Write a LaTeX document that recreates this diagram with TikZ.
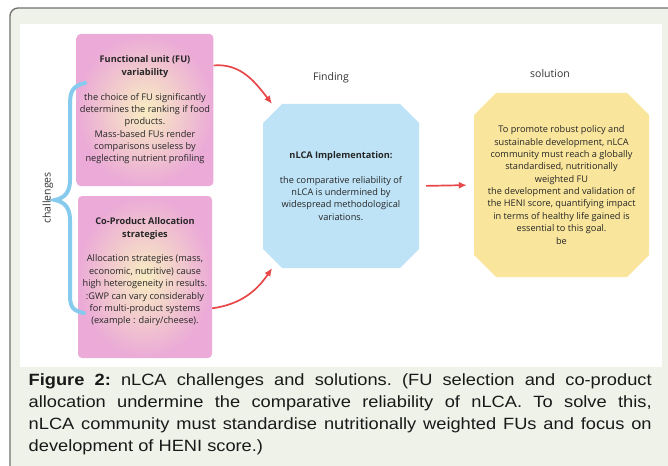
\documentclass[tikz,border=0pt]{standalone}
\usepackage{fontspec}
\setmainfont{Open Sans}
\newfontfamily\capfont[FakeStretch=1.12]{Liberation Sans}
\usepackage{xcolor}
\usetikzlibrary{arrows.meta, positioning}

\definecolor{pinkbox}{HTML}{EBAAD7}
\definecolor{pinkglow}{HTML}{F8EDC2}
\definecolor{skybox}{HTML}{BEE3F6}
\definecolor{sunbox}{HTML}{F9E69C}
\definecolor{arrowred}{HTML}{E8474A}
\definecolor{bracecol}{HTML}{86CBEE}
\definecolor{framebg}{HTML}{EEF2E8}
\definecolor{framegray}{HTML}{707070}

\tikzset{
    boxtext/.style={align=center, font=\fontsize{9.2}{12.35}\selectfont, text=black!85},
    challengebox/.style={boxtext, rectangle, rounded corners=4pt,
        minimum width=134pt, minimum height=152pt,
        inner color=pinkglow, outer color=pinkbox},
    % rectangle node filled as an octagon (#1 colour, #2 corner cut)
    octbox/.style 2 args={boxtext, rectangle, inner sep=0pt,
        path picture={
            \fill[#1] ([xshift=#2]path picture bounding box.north west)
                -- ([xshift=-#2]path picture bounding box.north east)
                -- ([yshift=-#2]path picture bounding box.north east)
                -- ([yshift=#2]path picture bounding box.south east)
                -- ([xshift=-#2]path picture bounding box.south east)
                -- ([xshift=#2]path picture bounding box.south west)
                -- ([yshift=#2]path picture bounding box.south west)
                -- ([yshift=-#2]path picture bounding box.north west) -- cycle;
        }},
    redarrow/.style={->, draw=arrowred, line width=1.7pt},
    header/.style={font=\fontsize{10.5}{12}\selectfont, text=black!80}
}

\begin{document}
\begin{tikzpicture}[
    x=1pt, y=-1pt,
    >={Latex[length=8pt,width=7pt]}
]

\useasboundingbox (0,0) rectangle (668,465);

% =========================================================
% FRAME AND PANEL
% =========================================================
\begin{scope}
\clip (0,0) rectangle (668,465);
\filldraw[fill=framebg, draw=framegray, line width=1.3pt, rounded corners=8pt]
    (10,8) rectangle (690,490);
\fill[white] (20,24) rectangle (662,367);
\end{scope}

% =========================================================
% LEFT: challenges
% =========================================================
\node[challengebox] (fu) at (145,110) {%
    \textbf{Functional unit (FU)}\\\textbf{variability}\\[12.35pt]
    the choice of FU significantly\\determines the ranking if food\\products.\\
    Mass-based FUs render\\comparisons useless by\\neglecting nutrient profiling};

\node[challengebox, minimum height=162pt] (alloc) at (145,277) {%
    \textbf{Co-Product Allocation}\\\textbf{strategies}\\[12.35pt]
    Allocation strategies (mass,\\economic, nutritive) cause\\high heterogeneity in results.\\
    :GWP can vary considerably\\for multi-product systems\\(example : dairy/cheese).\\ \mbox{}};

% brace grouping the two challenges
\draw[bracecol, line width=4pt, line cap=round]
    (85,83) .. controls (72,86) and (70,92) .. (70,105)
    -- (70,180)
    .. controls (70,193) and (64,198) .. (55,200)
    .. controls (64,202) and (70,207) .. (70,220)
    -- (70,296)
    .. controls (70,308) and (74,311) .. (84,313);
\node[header, rotate=90] (chal) at (48,198) {challenges};

% =========================================================
% MIDDLE: finding
% =========================================================
\node[octbox={skybox}{19pt}, minimum width=156pt, minimum height=164pt]
    (find) at (341,186) {%
    \textbf{nLCA Implementation:}\\[12.35pt]
    the comparative reliability of\\nLCA is undermined by\\widespread methodological\\variations.};
\node[header] (findlbl) at (331,77.5) {Finding};

% =========================================================
% RIGHT: solution
% =========================================================
\node[octbox={sunbox}{22pt}, minimum width=175pt, minimum height=184pt]
    (sol) at (561.5,185) {%
    To promote robust policy and\\sustainable development, nLCA\\community must reach a globally\\
    standardised, nutritionally\\weighted FU\\the development and validation of\\
    the HENI score, quantifying impact\\in terms of healthy life gained is\\
    essential to this goal.\\be};
\node[header] (sollbl) at (550,73.5) {solution};

% arrows
\draw[redarrow] (fu.33) to[out=5, in=128] (find.130);
\draw[redarrow] (alloc.-25) to[out=8, in=236] (find.230);
\draw[redarrow, shorten <=7pt, shorten >=7pt] (find.east) -- (sol.west);

% =========================================================
% CAPTION
% =========================================================
\node[anchor=north west, inner sep=0pt, text width=623pt, align=justify,
      font=\capfont\fontsize{16.3}{22}\selectfont\frenchspacing, text=black!90]
    (caption) at (28.5,373) {%
    \textbf{Figure 2:} nLCA challenges and solutions. (FU selection and co-product\linebreak
    allocation undermine the comparative reliability of nLCA. To solve this,\linebreak
    nLCA community must standardise nutritionally weighted FUs and focus on\linebreak
    development of HENI score.)};

\end{tikzpicture}
\end{document}
